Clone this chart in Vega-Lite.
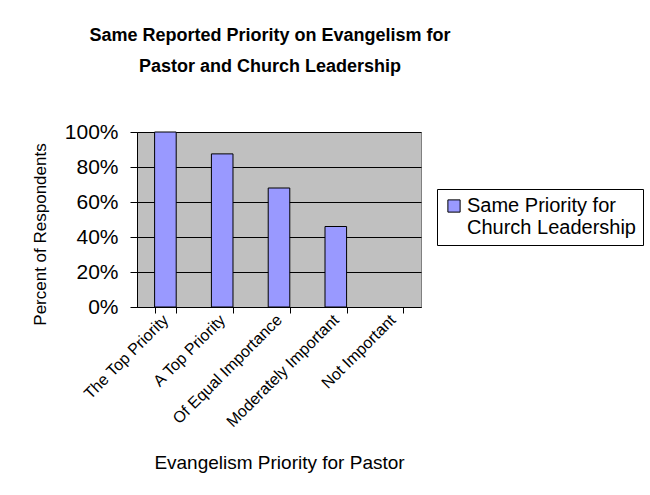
{
  "$schema": "https://vega.github.io/schema/vega-lite/v6.json",
  "width": 284,
  "height": 175,
  "autosize": {"type": "none"},
  "padding": {"left": 137, "top": 132, "right": 229, "bottom": 188},
  "background": "white",
  "title": {
    "text": ["Same Reported Priority on Evangelism for", "Pastor and Church Leadership"],
    "font": "Liberation Sans",
    "fontSize": 18,
    "fontWeight": "bold",
    "color": "black",
    "anchor": "middle",
    "dx": -9,
    "offset": 45,
    "lineHeight": 31
  },
  "data": {
    "values": [
      {"priority": "The Top Priority", "pct": 1.0, "series": "Same Priority for Church Leadership"},
      {"priority": "A Top Priority", "pct": 0.875, "series": "Same Priority for Church Leadership"},
      {"priority": "Of Equal Importance", "pct": 0.68, "series": "Same Priority for Church Leadership"},
      {"priority": "Moderately Important", "pct": 0.46, "series": "Same Priority for Church Leadership"},
      {"priority": "Not Important", "pct": 0.0, "series": "Same Priority for Church Leadership"}
    ]
  },
  "mark": {"type": "bar", "stroke": "black", "strokeWidth": 1},
  "encoding": {
    "x": {
      "field": "priority",
      "type": "nominal",
      "sort": null,
      "scale": {"paddingInner": 0.62, "paddingOuter": 0.31},
      "axis": {
        "title": "Evangelism Priority for Pastor",
        "titleFont": "Liberation Sans",
        "titleFontSize": 19,
        "titleFontWeight": "normal",
        "titleColor": "black",
        "titleY": 161,
        "titleBaseline": "alphabetic",
        "labelFont": "Liberation Sans",
        "labelFontSize": 16,
        "labelColor": "black",
        "labelAngle": -45,
        "labelAlign": "right",
        "labelBaseline": "middle",
        "labelPadding": 4,
        "labelLimit": 300,
        "tickBand": "extent",
        "tickColor": "black",
        "tickSize": 6,
        "domainColor": "black",
        "grid": false
      }
    },
    "y": {
      "field": "pct",
      "type": "quantitative",
      "scale": {"domain": [0, 1], "nice": false},
      "axis": {
        "title": "Percent of Respondents",
        "titleFont": "Liberation Sans",
        "titleFontSize": 17,
        "titleFontWeight": "normal",
        "titleColor": "black",
        "titleX": -97,
        "titleY": 102,
        "titleAngle": -90,
        "titleAlign": "center",
        "titleBaseline": "middle",
        "values": [0, 0.2, 0.4, 0.6, 0.8, 1],
        "format": ".0%",
        "labelFont": "Liberation Sans",
        "labelFontSize": 21,
        "labelColor": "black",
        "labelPadding": 12,
        "tickColor": "black",
        "tickSize": 7,
        "domainColor": "black",
        "grid": true,
        "gridColor": "black",
        "gridOpacity": 1
      }
    },
    "strokeOpacity": {
      "condition": {"test": "datum.pct > 0", "value": 1},
      "value": 0
    },
    "color": {
      "field": "series",
      "type": "nominal",
      "scale": {"range": ["#9999FF"]},
      "legend": {
        "title": null,
        "orient": "none",
        "legendX": 300,
        "legendY": 57,
        "strokeColor": "black",
        "fillColor": "white",
        "padding": 7,
        "symbolType": "square",
        "symbolSize": 150,
        "symbolStrokeColor": "black",
        "symbolStrokeWidth": 1,
        "symbolOpacity": 1,
        "labelFont": "Liberation Sans",
        "labelFontSize": 20,
        "labelColor": "black",
        "labelLimit": 400,
        "labelOffset": 3,
        "labelExpr": "['Same Priority for', 'Church Leadership']"
      }
    }
  },
  "config": {
    "view": {"fill": "#C0C0C0", "stroke": "#808080"},
    "axis": {"domainWidth": 1, "tickWidth": 1, "gridWidth": 1}
  }
}
